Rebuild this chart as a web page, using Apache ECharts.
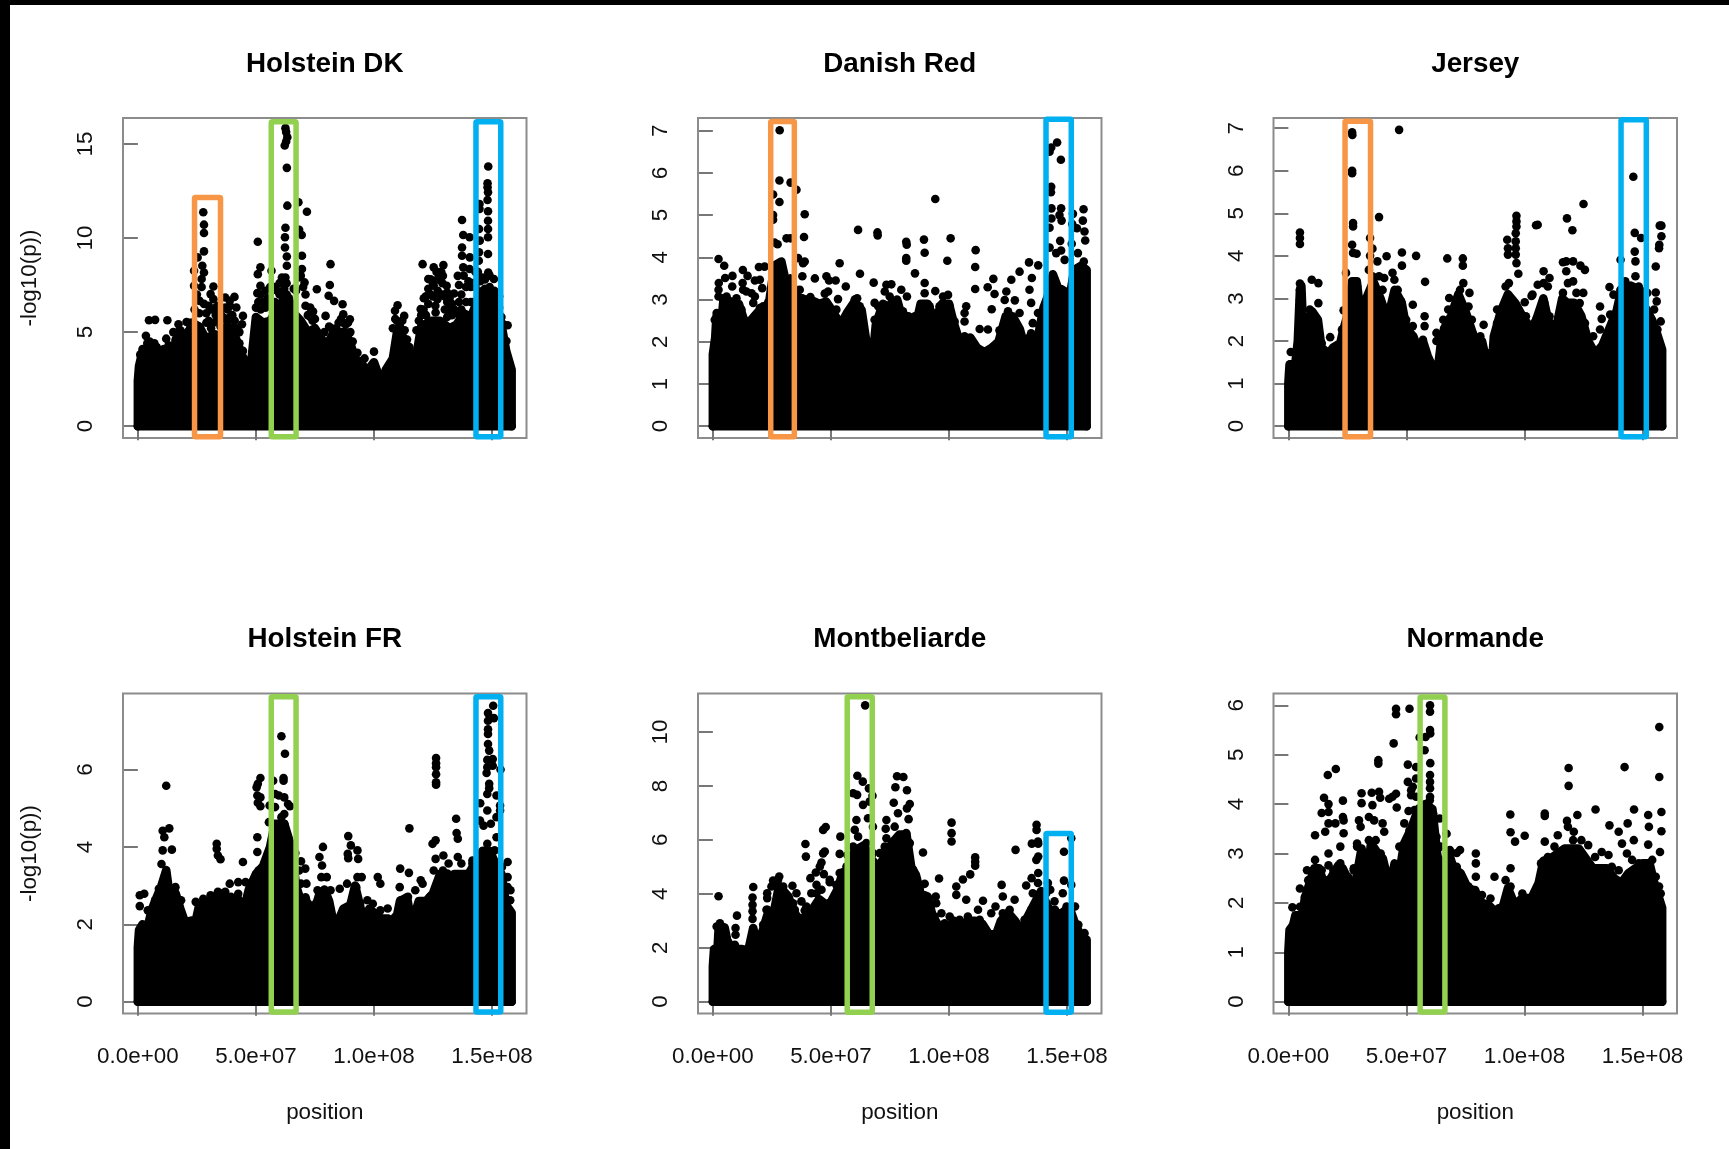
<!DOCTYPE html>
<html>
<head>
<meta charset="utf-8">
<style>
html,body{margin:0;padding:0;background:#fff;overflow:hidden}
#c{position:absolute;left:0;top:0;width:1729px;height:1149px}
#t{position:absolute;left:0;top:0;width:1729px;height:5px;background:#000}
#l{position:absolute;left:0;top:0;width:10px;height:1149px;background:#000}
</style>
<script src="https://cdn.jsdelivr.net/npm/echarts@6/dist/echarts.min.js"></script>
</head>
<body>
<div id="c"></div><div id="t"></div><div id="l"></div>
<script>
const titles = ['Holstein DK','Danish Red','Jersey','Holstein FR','Montbeliarde','Normande'];
const xTickValues = [0,50,100,150];           // position, in 1e6 bp
const xTickLabels = ['0.0e+00','5.0e+07','1.0e+08','1.5e+08'];
const yMaxima = [15.75,7.02,6.96,7.66,10.99,6.0];
const yTicks = [[0,5,10,15],[0,1,2,3,4,5,6,7],[0,1,2,3,4,5,6,7],[0,2,4,6],[0,2,4,6,8,10],[0,1,2,3,4,5,6]];
const orange='#F79646', green='#92D050', blue='#00B0F0';

// upper edge of the solid mass of points: [position, -log10(p)]
const massHDK = [[0,0],[0,2.4],[0.5,3.2],[2,4.0],[5,4.3],[8,4.2],[10,3.2],[12,4.0],[15,4.1],[17,4.9],[20,4.5],[23,5.5],[26,5.3],[29,4.6],[32,4.9],[35,4.8],[37,5.2],[40,5.2],[42,4.5],[44,3.8],[46,3.3],[48,3.4],[50,5.8],[53,5.5],[56,5.6],[59,6.2],[63,7.0],[66,6.0],[69,5.6],[72,5.0],[75,5.2],[78,4.6],[80,4.3],[83,5.0],[86,5.0],[88,5.0],[90,4.4],[92,3.6],[95,3.3],[97,2.9],[100,3.4],[102,2.7],[104,2.3],[105,3.0],[108,3.6],[110,5.2],[113,4.6],[116,3.5],[118,3.8],[120,5.3],[124,5.6],[128,5.6],[132,5.2],[135,5.4],[138,6.0],[141,5.8],[145,7.0],[149,7.0],[152,6.5],[154,5.4],[156,4.0],[158.3,3.0],[158.3,0]];
const massDR = [[0,0],[0,1.7],[1,2.1],[1.5,2.6],[4,2.7],[4.5,3.0],[8,2.95],[11,2.9],[13,2.55],[14.5,2.3],[16,2.5],[19,2.7],[22,2.75],[24,3.0],[26,3.8],[29,3.9],[31,3.4],[33,3.5],[35,3.1],[38,3.0],[41,3.0],[45,2.9],[48,2.95],[51,2.7],[54,2.4],[57,2.7],[60,2.95],[63,2.75],[65,2.0],[66.5,1.45],[67.5,1.5],[69,2.4],[72,2.9],[75,2.8],[78,3.0],[80,2.6],[83,2.6],[86,2.4],[88,2.9],[91,2.9],[94,2.5],[97,2.9],[100,2.9],[102,2.45],[104,2.1],[106,1.9],[109,2.1],[112,1.85],[115,1.75],[118,1.85],[121,2.0],[124,2.6],[127,2.6],[130,2.3],[132,1.9],[134,2.1],[136,2.0],[138,2.2],[140,2.8],[142,3.1],[144,3.6],[146,3.3],[149,3.2],[151,3.0],[153,3.7],[156,3.8],[158.3,3.7],[158.3,0]];
const massJE = [[0,0],[0,1.0],[0.5,1.45],[3,1.5],[4,2.0],[4.9,3.2],[5.5,3.3],[6.5,1.9],[8,2.4],[10,2.7],[12.5,2.5],[14,1.85],[17,1.7],[19,1.85],[22,1.95],[23,2.2],[25,2.6],[27,3.4],[29,3.4],[31,2.4],[33,3.0],[36,3.4],[39,3.0],[42,2.5],[45,3.2],[48,2.9],[50,2.3],[53,2.1],[55,1.8],[57,2.0],[59,1.65],[61,1.4],[63,1.2],[64.5,1.9],[66,2.3],[69,2.6],[72,3.1],[75,2.7],[78,2.2],[80,1.9],[82,2.0],[84,1.5],[86,1.2],[87,2.1],[90,2.7],[93,3.1],[96,2.9],[100,2.5],[103,2.3],[105,2.5],[108,3.0],[110,2.5],[113,2.2],[116,3.0],[118,2.9],[121,2.9],[124,2.6],[127,2.0],[130,1.7],[133,1.9],[136,2.3],[139,2.7],[141,3.2],[145,3.3],[149,3.2],[151,2.8],[154,2.5],[156,2.2],[158.3,1.8],[158.3,0]];
const massHF = [[0,0],[0,1.4],[0.5,1.85],[2,2.0],[4,1.9],[6,2.4],[8,2.7],[10,3.0],[12,3.4],[14,2.5],[16,2.8],[18,2.4],[20,2.05],[23,2.1],[24,1.95],[26,2.5],[29,2.55],[32,2.7],[35,2.8],[38,2.6],[40,1.9],[42,2.7],[45,2.4],[47,2.9],[50,3.3],[53,3.5],[56,4.0],[58,4.6],[62,4.6],[65,4.0],[67,3.0],[69,2.6],[71,2.7],[73,2.1],[75,2.4],[77,2.8],[79,2.9],[81,2.6],[83,2.0],[85,2.1],[87,2.4],[90,2.5],[92,3.0],[94,2.5],[96,2.0],[98,2.4],[100,2.3],[103,2.15],[106,2.15],[109,2.0],[111,2.6],[114,2.7],[116,2.0],[119,2.6],[122,2.6],[125,2.8],[128,3.3],[130,3.2],[132,2.9],[134,3.3],[137,3.3],[140,3.3],[143,3.6],[146,3.9],[149,3.9],[152,3.5],[154,3.3],[156,2.5],[158.3,2.3],[158.3,0]];
const massMO = [[0,0],[0,1.3],[0.5,1.95],[2,2.0],[2.5,2.8],[5,2.75],[6,2.3],[8,1.95],[12,1.95],[15,1.9],[17,2.7],[19,2.3],[21,2.6],[23,3.2],[26,3.4],[28,4.3],[32,3.9],[34,3.4],[36,3.1],[39,3.1],[42,3.4],[45,3.8],[48,3.6],[50,3.7],[53,4.2],[55,4.8],[58,4.9],[60,5.6],[64,5.8],[67,5.3],[70,5.0],[73,5.4],[76,5.9],[79,6.2],[82,6.2],[84,5.0],[86,4.7],[88,4.0],[91,3.9],[93,3.2],[95,2.9],[97,2.4],[99,2.7],[102,3.0],[105,2.8],[108,3.0],[111,3.0],[114,2.9],[117,2.5],[120,2.5],[122,3.0],[125,3.3],[128,3.0],[131,2.6],[133,3.1],[136,3.6],[139,4.1],[142,3.5],[145,3.2],[148,3.3],[151,3.5],[153,3.0],[156,2.4],[158.3,2.3],[158.3,0]];
const massNO = [[0,0],[0,1.0],[0.5,1.45],[2,1.55],[3,1.75],[6,1.75],[7,2.1],[9,2.4],[11,2.7],[13,2.7],[15,2.4],[18,2.5],[21,2.75],[23,2.7],[25,2.5],[28,2.3],[31,3.1],[33,2.4],[35,3.2],[38,3.0],[40,2.9],[43,2.3],[45,2.8],[47,2.6],[49,3.2],[52,3.5],[55,3.9],[58,4.0],[61,3.9],[63,3.0],[65,2.4],[68,3.0],[70,2.7],[73,2.6],[76,2.3],[79,2.25],[82,2.0],[85,1.95],[88,1.8],[91,1.95],[93,2.3],[96,1.95],[99,2.1],[103,2.1],[106,2.4],[108,2.85],[111,2.9],[114,3.0],[117,3.1],[120,3.1],[123,3.1],[126,2.9],[129,2.7],[132,2.7],[135,2.7],[138,2.5],[141,2.4],[144,2.6],[147,2.7],[150,2.8],[153,2.8],[155,2.4],[157,2.1],[158.3,1.9],[158.3,0]];

// individually visible points: [position, -log10(p)]
const dotsHDK = [[62.5,15.84],[62.8,15.63],[63.3,15.36],[62.8,15.13],[62.2,14.92],[63.1,13.73],[148.4,13.8],[148.1,12.91],[148.1,12.7],[148.3,12.43],[148.1,12.02],[144.7,11.81],[144.7,11.55],[148.3,11.42],[63.3,11.72],[68,11.9],[71.6,11.4],[27.7,11.37],[28,10.71],[28,10.27],[28,9.29],[137.3,10.96],[137.8,10.16],[140.5,10.04],[144.5,10.48],[144.8,9.86],[148.3,10.92],[148.3,10.48],[148.3,10.04],[148.3,9.15],[148.4,8.17],[144.5,9.24],[144.4,8.79],[62.5,10.55],[62.3,10.04],[62.3,9.5],[63.1,9.02],[63.1,8.53],[62.5,7.9],[68.3,10.44],[69.4,10.16],[69.5,9.06],[69.5,8.35],[70.6,7.64],[50.8,9.8],[51.9,8.44],[50.8,8.08],[51.9,7.46],[50.6,7.07],[56.6,8.26],[58.1,7.28],[137.3,9.5],[137.3,9.06],[137.8,8.44],[135.5,7.99],[140.6,8.97],[140.5,8.35],[25.3,8.97],[23.8,8.26],[27.3,8.53],[28,8.17],[27,7.82],[23.8,7.46],[26.1,6.66],[32,7.42],[30.8,7.02],[32,6.75],[37,6.84],[40.9,6.87],[38.9,6.66],[41.7,6.31],[44.5,5.86],[44.1,5.42],[81.6,8.61],[81.3,7.5],[75.8,7.28],[80.8,6.93],[83.1,6.66],[86.7,6.48],[79.5,5.86],[74.2,6.09],[87,5.95],[89.8,5.68],[120.6,8.61],[125.3,8.44],[129.4,8.56],[123,7.82],[129.2,7.99],[125.3,7.46],[130.8,7.46],[133.9,7.05],[121.1,6.8],[119.8,6.22],[126.9,6.75],[126.1,6.04],[150.8,7.82],[144.5,7.9],[156.6,5.36],[156.1,4.53],[110,6.43],[108.9,6.13],[112.8,5.86],[109.7,5.6],[4.7,5.63],[7.3,5.65],[12.5,5.63],[20.6,5.54],[17.2,5.42],[3.4,4.8],[12,4.65],[100,3.96],[94.1,3.46]];
const dotsDR = [[28.3,7.01],[28.2,5.82],[32.9,5.77],[35.4,5.6],[25.5,5.49],[28.2,5.31],[25.5,5.0],[25.5,4.89],[38.9,5.02],[38.6,4.48],[26.1,4.35],[27.4,4.31],[31.2,4.45],[32.9,4.45],[61.5,4.65],[69.7,4.59],[69.8,4.52],[94.2,5.38],[81.9,4.37],[82.1,4.3],[81.9,3.98],[81.9,3.92],[89.4,4.42],[89.7,4.11],[100.7,4.45],[99.3,3.92],[111.3,4.17],[111.1,3.77],[111.1,3.25],[2.4,3.96],[4.8,3.8],[8.3,3.56],[8.2,3.31],[5.2,3.51],[12.7,3.7],[14.7,3.56],[17.8,3.45],[19.9,3.47],[19.5,3.77],[21.9,3.78],[20.9,3.27],[53.7,3.86],[62.3,3.61],[68.1,3.4],[73.5,3.35],[75.6,3.36],[85.6,3.62],[89.7,3.39],[94.2,3.2],[118.8,3.49],[116.4,3.29],[119.3,3.13],[118.1,2.77],[126.4,3.47],[129.9,3.66],[133.9,3.88],[137.8,3.81],[135.1,3.51],[127.9,2.98],[142.6,6.5],[143.3,6.6],[145.8,6.72],[147.4,6.31],[143.3,5.67],[143.2,5.54],[143.4,5.16],[147.5,5.16],[143.4,4.92],[146.8,5.0],[147.7,4.87],[142.6,4.7],[147.1,4.39],[152.5,5.03],[152.2,4.79],[154.2,4.69],[157,5.14],[156.7,4.87],[157.4,4.61],[157.7,4.4],[152,4.32],[154.6,4.1],[157.1,3.9],[142.6,4.23],[145.4,4.1],[147.5,4.16],[149,3.94],[38.2,3.86],[38.9,3.9],[36.1,3.98],[37.9,3.55],[43.2,3.5],[48.1,3.55],[52,3.45],[49.2,3.45],[56.3,3.31]];
const dotsJE = [[27,6.9],[27.1,6.84],[46.9,6.96],[27,6.0],[27,5.94],[146.1,5.86],[125,5.22],[38.4,4.91],[96.6,4.94],[118,4.88],[120.3,4.6],[104.9,4.72],[105.6,4.73],[157.3,4.71],[158,4.71],[158,4.46],[157.1,4.26],[157,4.18],[146.7,4.54],[149.4,4.42],[27.4,4.77],[27.4,4.69],[27,4.26],[27.4,4.07],[28.9,4.05],[4.9,4.55],[4.9,4.42],[4.9,4.28],[34.6,4.42],[35.6,4.17],[34.6,4.0],[41.6,3.99],[48.1,4.08],[54.1,4.0],[48.1,3.77],[67.3,3.94],[73.9,3.94],[73.9,3.77],[57.9,3.39],[96.6,4.81],[96.6,4.69],[96.3,4.53],[96.3,4.34],[96.3,4.18],[96.3,4.03],[96.6,3.83],[92.7,4.38],[93,4.18],[93,4.03],[97.4,3.58],[117.7,3.87],[116.3,3.85],[117.7,3.64],[120.6,3.87],[123.7,3.77],[125.6,3.67],[108.1,3.64],[140.7,3.91],[146.7,4.1],[147,3.87],[155.6,3.75],[17.7,2.09],[1,1.74],[9.9,3.44],[12.7,3.36],[4.9,3.35],[22.7,2.27],[23.4,2.72],[24.4,3.6],[52.7,2.85],[82.7,2.38],[132,2.81],[136,3.27],[132.7,2.52],[157.7,2.46],[155.6,3.14],[156,2.93],[103,3.06],[100.1,2.91]];
const dotsHF = [[60.8,6.86],[62.3,6.41],[61.7,5.78],[61.7,5.71],[12,5.58],[150.5,7.65],[148.3,7.46],[150.8,7.33],[148.3,7.26],[148.3,7.04],[148.3,6.92],[148.3,6.66],[148.8,6.49],[148,6.25],[150.3,6.27],[150.3,6.1],[148,6.06],[147.7,5.91],[153.6,6.0],[148.8,5.63],[148.8,5.52],[148,5.37],[145,5.13],[148,4.94],[151.9,5.33],[153.4,5.07],[153.4,4.94],[151.9,4.77],[149.5,4.6],[126.3,6.3],[126.3,6.16],[126.3,6.06],[126.3,5.88],[126.3,5.67],[126.3,5.61],[57.3,5.71],[51.9,5.78],[50.8,5.63],[50.3,5.54],[50.6,5.33],[51.9,5.28],[50.8,5.14],[51.9,5.05],[55.8,5.07],[64.4,5.05],[55.5,4.64],[134.8,4.73],[115,4.48],[135,4.36],[135.5,4.21],[126.1,4.17],[124.8,4.08],[10.5,4.42],[13.3,4.48],[11.2,4.25],[10.5,3.91],[14.4,3.93],[10,3.56],[33.4,4.08],[33.4,3.95],[33.9,3.78],[35,3.68],[50.6,4.25],[50.6,3.87],[44.5,3.61],[89.1,4.28],[88.9,3.82],[90.2,4.04],[89.1,3.71],[93,3.91],[93.3,3.69],[78.4,4.0],[76.9,3.74],[78,3.52],[66.7,3.84],[69.1,3.63],[70.9,3.44],[101.6,3.22],[102.7,3.05],[111.1,3.44],[114.8,3.33],[110.9,2.96],[129.4,3.78],[156.6,3.61],[156.6,3.22],[157.8,2.88],[0.8,2.75],[2.7,2.79],[0.8,2.47],[38.9,3.05],[42.5,3.09],[93,3.22],[94.8,3.22],[119.8,3.14],[131.6,3.57],[141.7,3.65]];
const dotsMO = [[64.5,10.99],[61.2,8.38],[63.5,8.16],[59.4,7.73],[61.1,7.67],[66.1,7.91],[67.6,7.64],[63.6,7.3],[66.4,7.42],[78,8.36],[80.7,8.33],[77.3,7.95],[82.2,7.84],[76.6,7.38],[83.4,7.33],[82.2,7.17],[78.4,6.99],[82.9,6.77],[73.5,6.74],[73.2,6.41],[73.5,6.06],[101.1,6.64],[101.1,6.25],[101.1,5.94],[137.1,6.56],[137.1,6.37],[135.1,5.86],[137.8,5.86],[151.8,6.06],[148.7,5.56],[148.7,4.49],[128.2,5.63],[89,5.53],[111.1,5.35],[111.1,5.19],[111.1,5.04],[95.8,4.57],[105.9,4.53],[109,4.72],[103.1,4.27],[103.1,3.96],[122.3,4.33],[137.8,4.77],[137.8,5.38],[137,5.26],[135,4.58],[132.7,4.31],[141.9,4.4],[142.9,4.15],[144.7,3.72],[148.2,4.02],[151.8,4.33],[2.4,3.91],[10.2,3.19],[9.6,2.73],[9.6,2.48],[17.1,4.25],[16.8,3.86],[16.8,3.59],[16.8,3.35],[16.8,3.07],[23,4.02],[23,3.84],[23.1,3.41],[39.2,5.85],[39.4,5.38],[46.7,6.37],[47.8,6.48],[46.7,5.5],[47.4,5.57],[46,5.16],[45.3,5.01],[47,4.73],[41.3,4.58],[43.9,4.33],[43.6,4.79],[54,6.12],[53.7,5.48],[57,5.44],[28.1,4.64],[25.5,4.49],[33.7,4.3],[35.4,4.02],[49.5,4.43],[38.9,3.38],[37.5,3.72],[137.7,5.94],[107.3,3.78],[114.4,3.74],[119.7,3.53],[122.8,3.9],[127.8,3.78],[96.8,3.28],[94.4,3.9],[94.6,3.65],[89.7,4.37],[84.8,4.89]];
const dotsNO = [[60,6],[60,5.87],[45.6,5.93],[45.6,5.82],[51.3,5.93],[60,5.5],[60.1,5.43],[58.1,5.36],[55.6,5.35],[157.1,5.56],[157.1,4.55],[158,3.84],[158,3.45],[157.4,3.03],[57.7,5.09],[44.6,5.23],[60.1,4.83],[38.1,4.89],[38.1,4.82],[50.6,4.8],[54.1,4.75],[118.7,4.73],[118.7,4.37],[142.4,4.75],[20.1,4.71],[16.7,4.59],[31,4.22],[31,4.02],[35.3,4.23],[38.4,4.25],[38.9,4.13],[23.1,4.07],[15.1,4.13],[17,4.0],[17,3.84],[14.1,3.82],[23.1,3.74],[23.4,3.67],[15.6,3.44],[17,3.61],[19.9,3.61],[11.3,3.37],[23.4,3.41],[45.6,4.21],[44.1,4.15],[42.7,4.11],[45.9,3.93],[50.6,4.45],[52.7,4.35],[54.1,4.52],[52,4.18],[50.9,3.86],[60,4.59],[60,4.45],[60,4.32],[60,4.15],[64.1,3.71],[67,3.4],[64.4,3.14],[64.4,2.83],[94,3.79],[94.1,3.43],[96,3.24],[100.1,3.36],[108.6,3.81],[108.6,3.76],[108.6,3.24],[130.1,3.89],[122.4,3.78],[146.4,3.89],[152.4,3.78],[152.7,3.54],[152.4,3.18],[118,3.66],[120.9,3.44],[136,3.57],[143.7,3.61],[139.9,3.44],[146.3,3.27],[79.4,3.0],[79.4,2.8],[79.4,2.53],[87.3,2.53],[72.7,3.07],[71.3,3.01],[94.1,2.7],[92,2.46],[1.7,1.91],[7.9,2.66],[4.9,2.29],[114.1,3.37],[132.7,3.03],[27.7,2.7],[29.9,3.67],[29.1,3.2],[34.1,3.74],[35.6,3.98],[39.9,3.61],[40.6,3.44]];

// points on the rough upper boundary of the mass
const edgeHDK = [[121,6.2],[122,5.9],[123,6.5],[124,7.0],[125,6.9],[126,6.4],[127,7.2],[128,8.0],[129,7.6],[130,6.9],[131,6.6],[132,6.2],[133,5.9],[124,7.8],[126.5,8.2],[128.5,8.2],[131,5.8],[135,6.0],[136,7.5],[137,7.0],[138,8.0],[139,7.4],[140,7.7],[141,7.4],[142,6.6],[143,7.4],[144,8.2],[145,7.7],[146,7.2],[147,7.3],[148,7.0],[149,7.4],[150,7.0],[151,7.2],[152,7.0],[153,6.3],[154,5.8],[155,5.4],[50,6.3],[51,6.6],[52,7.0],[53,6.6],[54,7.2],[55,6.8],[56,7.4],[57,6.5],[58,6.6],[59,7.2],[60,7.6],[61,7.9],[62,7.3],[63,7.6],[64,6.8],[65,6.2],[66,6.5],[67,7.2],[68,7.9],[69,8.0],[70,7.4],[71,6.4],[72,5.9],[24,6.2],[25,7.0],[26,6.0],[27,7.4],[28,6.5],[29,5.5],[31,6.2],[32,5.5],[33,6.3],[34,5.6],[35,5.3],[37,5.7],[38,5.5],[39,5.8],[40,5.2],[41,5.0],[43,4.4],[44.5,4.0],[73,5.8],[74,5.6],[75,5.0],[76,4.7],[77,4.2],[79,5.0],[81,5.3],[82,5.2],[84,5.2],[86,5.7],[87,5.5],[88,5.4],[90,5.0],[91,4.5],[93,3.9],[96,3.6],[108,5.2],[109,5.7],[111,5.3],[112,5.6],[113,5.1],[114,4.6],[115,4.2],[118,5.1],[119,5.6],[120,5.9],[1,3.8],[2,4.1],[4,4.4],[5,4.5],[6,3.9],[7,4.4],[8,3.9],[11,4.1],[13,4.3],[15,5.0],[16,4.6],[17,5.0],[18,5.1],[19,4.7],[21,5.0],[22,5.5],[30,5.6],[31,5.2],[33,5.9],[34,6.4],[35,6.0],[36,5.8],[37,6.3],[38,6.2],[39,6.4],[40,5.9],[41,5.6],[42,5.2],[43,5.0],[30,6.4],[29,6.0],[122,6.9],[123,7.3],[125,7.6],[127,7.8],[129,7.0],[130,6.2],[131,7.1],[132,6.8],[133,6.5],[134,6.2],[136,6.6],[137,6.2],[139,6.6],[141,6.6],[142,7.6],[143,8.2],[146,7.9],[147,7.8],[149,8.0],[151,6.6],[153,6.9],[52,6.2],[54,6.3],[56,6.6],[58,7.4],[60,7.0],[66,7.3],[71,7.0],[73,6.3],[75,5.7],[85,5.5],[89,5.5]];
const edgeDR = [[1.6,2.68],[0.8,2.52],[2.4,3.23],[2.5,3.39],[2.4,3.07],[4.4,3.03],[5.8,3.07],[7.2,2.84],[10,3.03],[12.6,3.39],[12.8,3.23],[14.2,3.19],[16.4,3.15],[17.8,3.07],[17.1,2.92],[19.9,2.8],[21.3,2.84],[22,2.72],[17.8,2.6],[12.1,2.76],[36.8,3.23],[37.9,3.03],[41.3,3.06],[42.5,2.84],[45.3,2.76],[48.1,2.92],[48.8,3.19],[47.4,3.14],[53,3.01],[52.3,2.76],[50.9,2.68],[58,2.52],[60.1,3.0],[61.1,3.03],[62.2,2.84],[59.4,2.76],[62.9,2.6],[68.5,2.92],[68.5,2.52],[70,2.84],[70.7,2.44],[74.6,2.68],[72.8,3.19],[74.9,3.07],[75.6,2.92],[79.8,3.23],[80.5,2.72],[82.2,3.07],[85.5,2.6],[81.9,2.48],[88.7,2.84],[89.7,3.15],[91.8,2.84],[93.9,2.44],[97.5,3.07],[99.6,3.11],[96,2.84],[100.3,2.84],[102.4,2.48],[106.6,2.68],[106.6,2.48],[107.3,2.84],[106.6,2.13],[113,2.3],[116.5,2.29],[121.4,2.27],[124.3,3.19],[123.6,2.99],[125,2.72],[129.9,2.68],[134.1,3.23],[134.8,2.92],[135.5,2.44],[134.8,2.2],[137.7,2.68],[138.4,2.36]];
const edgeJE = [[4.9,3.2],[4.9,2.97],[4.9,2.66],[5.6,2.27],[9.1,2.74],[9.9,2.42],[12.7,2.89],[12,2.5],[14.1,1.95],[27.7,3.2],[29.1,3.28],[34.1,3.67],[35.6,3.52],[37.7,3.87],[38.4,3.52],[40.6,3.48],[39.9,3.2],[44.1,3.6],[44.9,3.44],[46.3,3.2],[47.7,2.93],[48,2.7],[49.9,2.5],[52.7,2.35],[52.7,2.11],[57.7,2.58],[57.7,2.35],[57,2.03],[62.7,2.19],[62.7,2],[65.6,2.5],[68.1,3.01],[67.7,2.74],[72.7,3.2],[74.1,3.36],[76.7,3.13],[76.3,2.81],[77.7,2.5],[81.3,2.11],[84.1,1.72],[85.6,1.25],[88.4,2.74],[88.4,2.42],[92,3.28],[93.4,3.36],[93.4,2.89],[97,2.74],[100.6,2.58],[103.4,3.09],[104.9,2.5],[105.6,3.32],[108.1,3.36],[109.9,3.28],[110.6,3.48],[108.4,2.89],[110.6,2.58],[112.7,2.35],[116.3,3.13],[118.4,3.36],[120.6,3.4],[122,3.13],[124.9,3.13],[123.4,2.89],[125.6,2.42],[129.1,2.11],[132,2.27],[136.3,2.62],[137.7,3.09],[140.6,3.2],[142.7,3.4],[147,3.52],[148.4,3.28],[152,3.13],[154.9,2.74],[156.3,2.27]];
const edgeHF = [[4.2,2.36],[7.3,2.62],[8.9,2.92],[12,3.22],[12,2.96],[15.9,2.96],[18.3,2.62],[17.5,2.36],[24.5,2.58],[27.7,2.66],[30.8,2.75],[33.9,2.84],[37,2.84],[39.4,2.71],[41.7,2.62],[42.5,2.79],[45.6,3.09],[48,2.96],[51.1,3.14],[51.1,3.39],[53.4,3.48],[55,3.65],[55.8,3.91],[65.9,3.74],[68.3,3.39],[69.1,3.05],[71.4,3.05],[72.2,2.53],[75.3,2.53],[76.1,2.88],[77.7,3.22],[80,3.22],[81.6,2.88],[83.1,2.1],[85.5,2.92],[88.6,3.05],[90.2,2.36],[92.5,2.96],[94.1,2.53],[97.2,2.62],[99.5,2.53],[102.7,2.36],[105.8,2.41],[108.9,2.19],[111.3,2.62],[114.4,2.71],[117.5,2.88],[120.6,3.05],[123.8,2.71],[125.3,3.39],[126.1,3.69],[129.2,3.39],[131.1,3.31],[133.1,2.96],[135.5,3.74],[137,3.57],[137,3.05],[141.7,3.57],[144.9,3.82],[144.9,4.68],[146.4,4.55],[148,4.08],[151.1,3.91],[151.9,4.25],[154.2,3.48],[156.6,2.96],[157.7,2.62],[57.3,4.34],[57.3,4.55],[62,4.6],[62,4.85],[58.1,5.37],[59.7,5.33],[62,5.28],[58.1,5.03],[63.6,5.11],[60.8,4.77]];
const edgeMO = [[1.6,2.79],[3,2.91],[4.4,2.3],[5.8,2.36],[9.3,2.11],[17.1,2.73],[21.3,2.85],[22.7,3.41],[24.8,4.27],[27.6,4.52],[29.8,4.27],[31.9,3.9],[34,3.65],[34.7,3.41],[39.6,3.53],[41.7,4.02],[43.9,4.02],[46,4.15],[49.5,4.52],[52.3,4.33],[53.7,4.77],[56.6,5.01],[59.4,5.75],[60.1,6.37],[60.8,6.74],[61.5,6.12],[63.6,5.63],[65,5.88],[65.7,6.8],[67.8,6.49],[67.8,5.51],[70.7,5.51],[72.8,5.75],[74.9,5.26],[77,6.49],[79.1,6.12],[81.9,6.25],[83.4,5.88],[84.1,4.89],[85.5,4.64],[87.6,4.15],[86.2,3.78],[88.3,3.53],[91.8,3.41],[93.9,3.16],[98.2,2.91],[100.3,3.16],[104.5,3.04],[108,3.16],[112.3,3.41],[113,3.04],[117.9,3.28],[122.8,3.28],[125.7,3.41],[127.8,2.79],[132,3.04],[134.8,3.41],[135.5,4.02],[138.3,3.9],[137.7,4.4],[141.2,4.02],[144.9,3.41],[147,3.28],[149.8,3.53],[153.4,3.53],[154.8,2.85],[157.4,2.54]];
const edgeNO = [[4.9,1.92],[7,2.12],[8.4,2.46],[11.3,2.87],[14.1,2.66],[17,3.0],[17,2.76],[19.1,2.66],[22,2.8],[22,3.14],[25.3,2.53],[27.7,2.66],[29.1,3.14],[30.6,3.54],[33.4,2.8],[34.1,3.27],[36.3,3.67],[37,3.27],[39.1,3.0],[40.6,2.73],[44.9,2.33],[44.9,2.73],[47,3.14],[49.1,3.61],[51.3,3.47],[53.4,3.88],[54.1,4.15],[52,4.28],[57,3.94],[59.9,4.08],[61.3,3.81],[62.7,3.34],[64.1,2.87],[63.4,2.46],[68.4,3.07],[71.3,2.73],[73.4,2.46],[76.3,2.33],[79.1,2.26],[82,2.16],[85.6,2.09],[89.1,1.89],[92.7,2.19],[94.1,2.33],[99.1,2.19],[105.6,2.33],[107,2.8],[109.9,2.93],[112.7,3.14],[114.9,3.0],[118.4,3.54],[120.6,3.27],[124.1,3.27],[127,3.17],[129.9,2.93],[135.6,2.97],[137,2.73],[139.9,2.66],[141.3,3.2],[143.4,3.0],[145.6,2.87],[148.4,2.8],[154.1,2.87],[155.6,2.53],[157,2.33],[157.7,2.19]];

// highlight frames: [x from, x to, y from, y to, colour]
const framesHDK = [[24,35,-0.56,12.16,orange],[56.5,67,-0.56,16.18,green],[143.2,153.7,-0.56,16.18,blue]];
const framesDR  = [[24.5,34.5,-0.25,7.22,orange],[141.1,151.8,-0.25,7.27,blue]];
const framesJE  = [[24,34.8,-0.25,7.16,orange],[140.9,151.6,-0.25,7.2,blue]];
const framesHF  = [[56.5,67,-0.27,7.88,green],[143.2,153.7,-0.27,7.88,blue]];
const framesMO  = [[56.9,67.5,-0.39,11.31,green],[141.1,151.8,-0.39,6.24,blue]];
const framesNO  = [[55.8,66.3,-0.21,6.17,green]];

const masses = [massHDK,massDR,massJE,massHF,massMO,massNO];
const dots = [dotsHDK,dotsDR,dotsJE,dotsHF,dotsMO,dotsNO];
const edges = [edgeHDK,edgeDR,edgeJE,edgeHF,edgeMO,edgeNO];
const frames = [framesHDK,framesDR,framesJE,framesHF,framesMO,framesNO];

const font = '"Liberation Sans", Arial, sans-serif';
const colX = [123,698,1273.5], rowY = [118,693.5], boxW = 403.5, boxH = 320;
const dotSize = 8.6;

const grid=[], xAxis=[], yAxis=[], series=[], title=[];
titles.forEach((name,i)=>{
  const c=i%3, r=Math.floor(i/3), M=yMaxima[i];
  grid.push({left:colX[c],top:rowY[r],width:boxW,height:boxH,show:true,borderColor:'#8c8c8c',borderWidth:2,backgroundColor:'transparent'});
  title.push({text:name,left:colX[c]+boxW/2,textAlign:'center',top:rowY[r]-68,padding:0,
    textStyle:{fontFamily:font,fontSize:27.8,fontWeight:'bold',color:'#000'}});
  const xLab = xTickValues.map((v,k)=>({v,l:xTickLabels[k]}));
  xAxis.push({type:'value',gridIndex:i,min:-6.3,max:164.6,
    axisLine:{show:false},splitLine:{show:false},
    axisTick:{show:true,length:14,lineStyle:{color:'#777',width:2},customValues:xTickValues},
    axisLabel:{show:r===1,customValues:xTickValues,margin:32,fontFamily:font,fontSize:22.4,color:'#111',
      formatter:v=>{const f=xLab.find(o=>o.v===v);return f?f.l:'';}},
    name:r===1?'position':'',nameLocation:'middle',nameGap:88,
    nameTextStyle:{fontFamily:font,fontSize:22.4,color:'#111'}});
  yAxis.push({type:'value',gridIndex:i,min:-0.04*M,max:1.04*M,
    axisLine:{show:false},splitLine:{show:false},
    axisTick:{show:true,length:14,lineStyle:{color:'#777',width:2},customValues:yTicks[i]},
    axisLabel:{show:true,customValues:yTicks[i],rotate:90,margin:26,fontFamily:font,fontSize:22.4,color:'#111'},
    name:c===0?'-log10(p))':'',nameLocation:'middle',nameRotate:90,nameGap:82,
    nameTextStyle:{fontFamily:font,fontSize:22.4,color:'#111'}});
  const base={xAxisIndex:i,yAxisIndex:i,silent:true,animation:false};
  series.push({...base,type:'line',data:masses[i],showSymbol:false,clip:false,z:2,
    lineStyle:{color:'#000',width:dotSize,cap:'round',join:'round'},
    areaStyle:{color:'#000',opacity:1}});
  series.push({...base,type:'line',data:[masses[i][0],masses[i][masses[i].length-1]],showSymbol:false,clip:false,z:2,
    lineStyle:{color:'#000',width:dotSize,cap:'round'}});
  series.push({...base,type:'scatter',data:edges[i],symbol:'circle',symbolSize:dotSize,clip:false,z:3,
    itemStyle:{color:'#000',opacity:1}});
  series.push({...base,type:'scatter',data:dots[i],symbol:'circle',symbolSize:dotSize,clip:false,z:3,
    itemStyle:{color:'#000',opacity:1}});
  series.push({...base,type:'custom',data:frames[i],clip:false,z:5,
    encode:{x:[0,1],y:[2,3]},
    renderItem:(p,api)=>{
      const a=api.coord([api.value(0),api.value(2)]), b=api.coord([api.value(1),api.value(3)]);
      return {type:'rect',shape:{x:a[0],y:b[1],width:b[0]-a[0],height:a[1]-b[1],r:1},
        style:{fill:'none',stroke:frames[i][p.dataIndex][4],lineWidth:5.5,lineJoin:'round'}};
    }});
});
const chart=echarts.init(document.getElementById('c'),null,{renderer:'canvas'});
chart.setOption({backgroundColor:'#fff',animation:false,title,grid,xAxis,yAxis,series});
</script>
</body>
</html>
